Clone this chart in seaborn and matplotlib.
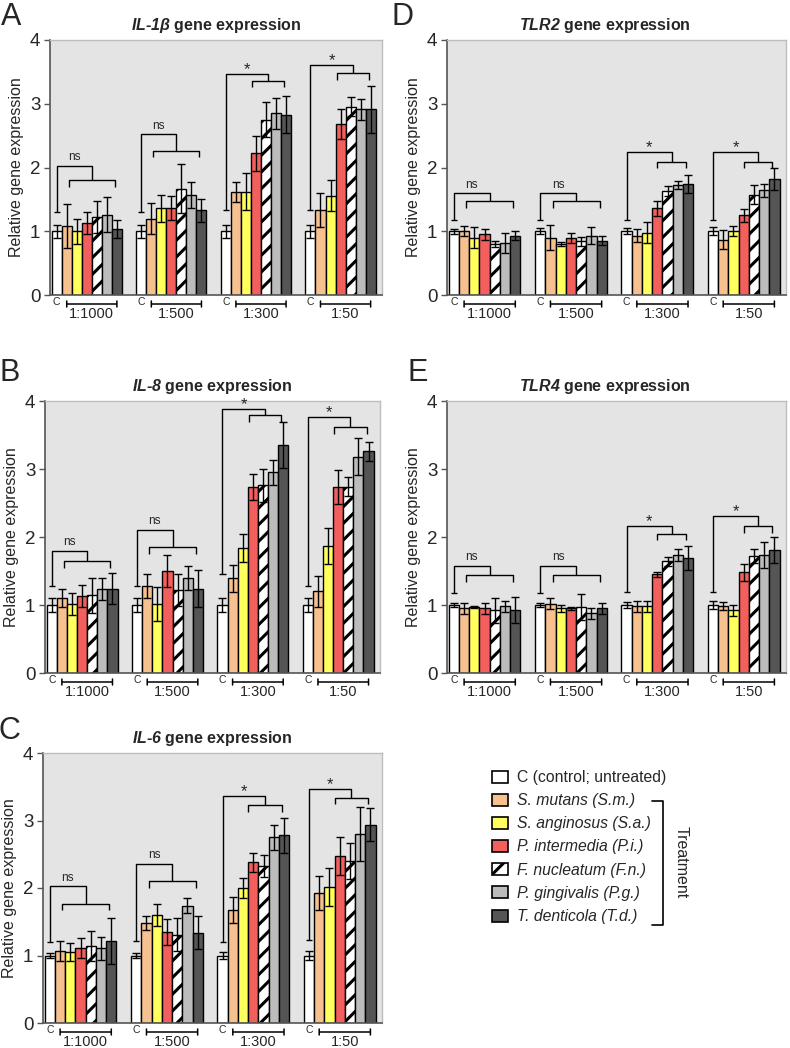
import pandas as pd
import matplotlib.pyplot as plt
import seaborn as sns
from matplotlib.patches import Patch
from matplotlib.lines import Line2D
from matplotlib.transforms import offset_copy

# ---- data ----
ratios = ["1:1000", "1:500", "1:300", "1:50"]
strains = ["C", "S.m.", "S.a.", "P.i.", "F.n.", "P.g.", "T.d."]
legend_labels = [
    "C (control; untreated)",
    "S. mutans (S.m.)",
    "S. anginosus (S.a.)",
    "P. intermedia (P.i.)",
    "F. nucleatum (F.n.)",
    "P. gingivalis (P.g.)",
    "T. denticola (T.d.)",
]
bar_colors = ["#ffffff", "#f6c08f", "#ffff5e", "#f35f5d", "#ffffff", "#bcbcbc", "#555555"]

il1b_mean = [[1.0, 1.08, 1.0, 1.13, 1.22, 1.26, 1.03],
             [1.0, 1.2, 1.36, 1.36, 1.67, 1.57, 1.33],
             [1.0, 1.62, 1.62, 2.22, 2.75, 2.85, 2.83],
             [1.0, 1.33, 1.56, 2.68, 2.95, 2.91, 2.91]]
il1b_err = [[0.1, 0.34, 0.2, 0.17, 0.25, 0.27, 0.14],
            [0.1, 0.25, 0.21, 0.19, 0.39, 0.2, 0.18],
            [0.1, 0.16, 0.29, 0.27, 0.27, 0.24, 0.29],
            [0.1, 0.27, 0.25, 0.24, 0.15, 0.17, 0.37]]

il8_mean = [[1.0, 1.1, 1.02, 1.13, 1.14, 1.24, 1.24],
            [1.0, 1.28, 1.02, 1.5, 1.22, 1.4, 1.24],
            [1.0, 1.39, 1.84, 2.74, 2.76, 2.95, 3.35],
            [1.0, 1.2, 1.87, 2.74, 2.74, 3.18, 3.26]]
il8_err = [[0.1, 0.13, 0.16, 0.16, 0.26, 0.16, 0.23],
           [0.1, 0.17, 0.25, 0.23, 0.24, 0.18, 0.27],
           [0.1, 0.2, 0.21, 0.19, 0.24, 0.18, 0.34],
           [0.1, 0.23, 0.26, 0.25, 0.14, 0.27, 0.14]]

il6_mean = [[1.0, 1.07, 1.05, 1.11, 1.14, 1.11, 1.21],
            [1.0, 1.48, 1.6, 1.35, 1.31, 1.74, 1.34],
            [1.0, 1.67, 2.0, 2.38, 2.33, 2.75, 2.78],
            [1.0, 1.93, 2.02, 2.48, 2.4, 2.8, 2.94]]
il6_err = [[0.03, 0.15, 0.13, 0.15, 0.22, 0.17, 0.34],
           [0.04, 0.1, 0.17, 0.19, 0.25, 0.11, 0.24],
           [0.05, 0.19, 0.15, 0.14, 0.16, 0.19, 0.26],
           [0.06, 0.25, 0.28, 0.28, 0.26, 0.4, 0.24]]

tlr2_mean = [[1.0, 1.0, 0.9, 0.95, 0.8, 0.82, 0.93],
             [1.0, 0.9, 0.8, 0.9, 0.84, 0.93, 0.85],
             [1.0, 0.93, 0.98, 1.36, 1.63, 1.73, 1.74],
             [1.0, 0.87, 1.0, 1.25, 1.57, 1.64, 1.82]]
tlr2_err = [[0.04, 0.08, 0.17, 0.08, 0.05, 0.16, 0.07],
            [0.05, 0.2, 0.03, 0.08, 0.07, 0.13, 0.07],
            [0.05, 0.1, 0.16, 0.12, 0.08, 0.06, 0.14],
            [0.06, 0.15, 0.08, 0.1, 0.15, 0.1, 0.17]]

tlr4_mean = [[1.0, 0.95, 0.97, 0.95, 0.92, 0.98, 0.93],
             [1.0, 1.02, 0.95, 0.95, 0.97, 0.88, 0.95],
             [1.0, 0.98, 0.98, 1.45, 1.64, 1.73, 1.69],
             [1.0, 0.99, 0.92, 1.48, 1.72, 1.73, 1.81]]
tlr4_err = [[0.03, 0.08, 0.02, 0.08, 0.19, 0.08, 0.19],
            [0.03, 0.08, 0.05, 0.02, 0.19, 0.08, 0.08],
            [0.04, 0.08, 0.08, 0.04, 0.07, 0.09, 0.18],
            [0.06, 0.06, 0.08, 0.13, 0.1, 0.19, 0.19]]

# significance brackets: (control leg bottom, upper bracket, lower bracket, label)
il1b_sig = [(1.3, 2.03, 1.8, "ns"), (1.3, 2.53, 2.26, "ns"), (1.33, 3.47, 3.36, "*"), (1.33, 3.61, 3.48, "*")]
il8_sig = [(1.28, 1.8, 1.64, "ns"), (1.28, 2.11, 1.85, "ns"), (1.45, 3.88, 3.79, "*"), (1.28, 3.76, 3.62, "*")]
il6_sig = [(1.2, 2.03, 1.77, "ns"), (1.21, 2.36, 2.1, "ns"), (1.2, 3.36, 3.23, "*"), (1.23, 3.47, 3.34, "*")]
tlr2_sig = [(1.18, 1.6, 1.47, "ns"), (1.18, 1.6, 1.47, "ns"), (1.18, 2.24, 2.09, "*"), (1.18, 2.24, 2.09, "*")]
tlr4_sig = [(1.17, 1.58, 1.44, "ns"), (1.17, 1.58, 1.44, "ns"), (1.19, 2.16, 2.05, "*"), (1.19, 2.31, 2.16, "*")]

# ---- style ----
sns.set_style("white")
plt.rcParams["font.family"] = ["Liberation Sans", "DejaVu Sans"]
plt.rcParams["mathtext.fontset"] = "custom"
plt.rcParams["mathtext.rm"] = "Liberation Sans"
plt.rcParams["mathtext.it"] = "Liberation Sans:italic"
plt.rcParams["mathtext.bf"] = "Liberation Sans:bold"
plt.rcParams["mathtext.bfit"] = "Liberation Sans:italic:bold"
plt.rcParams["hatch.linewidth"] = 2.2

W, H = 790, 1048
fig = plt.figure(figsize=(W / 100, H / 100), dpi=100)


def add_ax(l, t, r, b):
    return fig.add_axes([l / W, 1 - b / H, (r - l) / W, (b - t) / H])


def below(ax, dy):
    return offset_copy(ax.get_xaxis_transform(), fig=fig, y=dy, units="dots")


def draw_panel(ax, means, errs, sig, title, letter, letter_xy, sig_start, title_x=0.5):
    df = pd.DataFrame([{"ratio": r, "strain": s, "value": means[g][j]}
                       for g, r in enumerate(ratios) for j, s in enumerate(strains)])
    sns.barplot(data=df, x="ratio", y="value", hue="strain", order=ratios,
                hue_order=strains, palette=bar_colors, saturation=1, width=0.83,
                gap=0, errorbar=None, edgecolor="black", linewidth=1.0,
                legend=False, ax=ax, zorder=2)
    ax.set_facecolor("#e4e4e4")
    for bar in ax.containers[4]:
        bar.set_hatch("//")

    bw = ax.containers[0][0].get_width()
    xc = [[ax.containers[j][g].get_x() + bw / 2 for j in range(7)] for g in range(4)]
    for j in range(7):
        ax.errorbar([xc[g][j] for g in range(4)], [means[g][j] for g in range(4)],
                    yerr=[errs[g][j] for g in range(4)], fmt="none", ecolor="black",
                    elinewidth=1, capsize=3, capthick=1, zorder=3)

    kw = dict(color="black", lw=1, zorder=4, solid_capstyle="butt")
    for g in range(4):
        leg, top, low, lab = sig[g]
        x0 = xc[g][0]
        x1 = x0 + (1.2 if lab == "ns" else sig_start) * bw
        x2 = x0 + 5.8 * bw
        mid = (x1 + x2) / 2
        ax.plot([x0, x0, mid, mid], [leg, top, top, low], **kw)
        ax.plot([x0 - 0.3 * bw, x0 + 0.3 * bw], [leg, leg], **kw)
        ax.plot([x1, x1, x2, x2], [low - 0.1, low, low, low - 0.1], **kw)
        if lab == "ns":
            ax.text((x0 + mid) / 2, top + 0.08, lab, ha="center", va="baseline", fontsize=8.5)
        else:
            ax.text((x0 + mid) / 2, top + 0.0, lab, ha="center", va="baseline", fontsize=12)

    # group annotation under the axis: C label, bracket over treatments, ratio
    lk = dict(color="black", lw=1.1, clip_on=False, solid_capstyle="butt")
    for g in range(4):
        xa, xb = xc[g][1], xc[g][6]
        ax.plot([xa, xb], [0, 0], transform=below(ax, -9), **lk)
        for xe in (xa, xb):
            ax.annotate("", xy=(xe, 0), xycoords=below(ax, -6), xytext=(xe, 0),
                        textcoords=below(ax, -12),
                        arrowprops=dict(arrowstyle="-", lw=1.1, color="black",
                                        shrinkA=0, shrinkB=0))
        ax.text(xc[g][0], 0, "C", transform=below(ax, -7), ha="center", va="center",
                fontsize=7.5)
        ax.text((xa + xb) / 2, 0, ratios[g], transform=below(ax, -19), ha="center",
                va="center", fontsize=10.5)

    ax.set_xticks([])
    ax.set_xlabel("")
    ax.set_xlim(-0.435, 3.49)
    ax.set_ylim(0, 4)
    ax.set_yticks(range(5))
    ax.tick_params(axis="y", labelsize=13.5, length=4, width=1, color="#555555",
                   pad=3, left=True)
    ax.set_ylabel("Relative gene expression", fontsize=11.5, labelpad=4)
    for s in ("left", "bottom"):
        ax.spines[s].set_color("#555555")
        ax.spines[s].set_linewidth(1.2)
    for s in ("top", "right"):
        ax.spines[s].set_color("#bdbdbd")
        ax.spines[s].set_linewidth(1)
    ax.set_title(title, fontsize=11.5, fontweight="bold", pad=7, x=title_x)
    fig.text(letter_xy[0] / W, 1 - letter_xy[1] / H, letter, fontsize=22,
             ha="center", va="center")


ax_a = add_ax(50, 40, 382, 295)
ax_d = add_ax(447, 40, 786, 295)
ax_b = add_ax(45, 401, 380, 673)
ax_e = add_ax(447, 401, 786, 673)
ax_c = add_ax(43, 753, 382, 1023)

draw_panel(ax_a, il1b_mean, il1b_err, il1b_sig,
           r"$\mathbfit{IL}$-$\mathbfit{1β}$ gene expression", "A", (11, 17), 2.6)
draw_panel(ax_b, il8_mean, il8_err, il8_sig,
           r"$\mathbfit{IL}$-$\mathbfit{8}$ gene expression", "B", (10, 373), 2.6)
draw_panel(ax_c, il6_mean, il6_err, il6_sig,
           r"$\mathbfit{IL}$-$\mathbfit{6}$ gene expression", "C", (9, 731), 2.5)
draw_panel(ax_d, tlr2_mean, tlr2_err, tlr2_sig,
           r"$\mathbfit{TLR2}$ gene expression", "D", (402, 17), 3.0, title_x=0.465)
draw_panel(ax_e, tlr4_mean, tlr4_err, tlr4_sig,
           r"$\mathbfit{TLR4}$ gene expression", "E", (418, 373), 3.0, title_x=0.465)

# legend
handles = [Patch(facecolor=c, edgecolor="black", linewidth=1.2,
                 hatch="//" if s == "F.n." else None)
           for c, s in zip(bar_colors, strains)]
leg = fig.legend(handles, legend_labels, loc="upper left",
                 bbox_to_anchor=(492 / W, 1 - 770 / H), frameon=False, fontsize=11.3,
                 handlelength=1.05, handleheight=0.8, handletextpad=0.55,
                 labelspacing=0.52, borderpad=0, borderaxespad=0)
for t in leg.get_texts()[1:]:
    t.set_style("italic")

fig.add_artist(Line2D([652 / W, 663 / W, 663 / W, 652 / W],
                      [1 - 801 / H, 1 - 801 / H, 1 - 925 / H, 1 - 925 / H],
                      transform=fig.transFigure, color="black", lw=1.2))
fig.text(681 / W, 1 - 862 / H, "Treatment", rotation=-90, ha="center", va="center",
         fontsize=11.5)

fig.savefig("out.png", dpi=100)
